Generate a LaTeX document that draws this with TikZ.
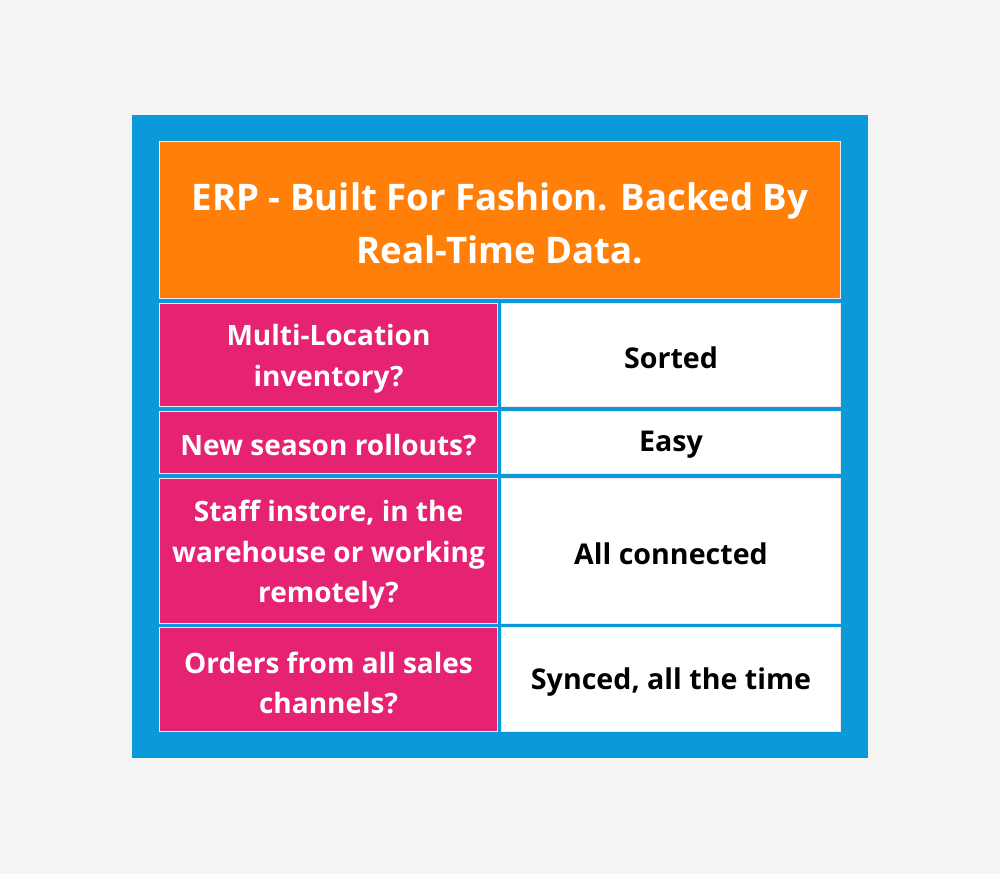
\documentclass[tikz,border=0pt]{standalone}
\usepackage{fontspec}
\setmainfont{Open Sans}
\definecolor{bgc}{HTML}{F4F4F4}
\definecolor{framec}{HTML}{0A9ADA}
\definecolor{orangec}{HTML}{FF7F08}
\definecolor{pinkc}{HTML}{E62272}
\definecolor{edgec}{HTML}{F4E6EC}
\begin{document}
\begin{tikzpicture}[x=1pt,y=-1pt,
  cellbox/.style={draw=edgec,line width=1pt},
  lefttext/.style={text=white,font=\bfseries\fontsize{28}{40.5}\selectfont,align=center},
  righttext/.style={text=black,font=\bfseries\fontsize{28.6}{40.5}\selectfont,align=center},
  headtext/.style={text=white,font=\bfseries\fontsize{36.6}{53}\selectfont,align=center}]
\fill[bgc] (0,0) rectangle (1000,874);
\useasboundingbox (0,0) rectangle (1000,874);
\fill[framec] (131.5,115) rectangle (868,758);
% header
\filldraw[cellbox,fill=orangec] (159.5,142) rectangle (840.5,298);
\node[headtext] (head) at (500,223) {ERP - Built For Fashion. Backed By\\Real-Time Data.};
% rows
\filldraw[cellbox,fill=pinkc] (159.5,303) rectangle (497,406.5);
\filldraw[cellbox,fill=white] (501.5,303) rectangle (840.5,406.5);
\filldraw[cellbox,fill=pinkc] (159.5,411.5) rectangle (497,473);
\filldraw[cellbox,fill=white] (501.5,411.5) rectangle (840.5,473);
\filldraw[cellbox,fill=pinkc] (159.5,478) rectangle (497,623.5);
\filldraw[cellbox,fill=white] (501.5,478) rectangle (840.5,623.5);
\filldraw[cellbox,fill=pinkc] (159.5,627.5) rectangle (497,731.5);
\filldraw[cellbox,fill=white] (501.5,627.5) rectangle (840.5,731.5);
\node[lefttext] (q1) at (328.5,358.5) {Multi-Location\\inventory?};
\node[righttext] (a1) at (671,357.5) {Sorted};
\node[lefttext] (q2) at (328.5,445) {New season rollouts?};
\node[righttext] (a2) at (671,444.5) {Easy};
\node[lefttext] (q3) at (328.5,555) {Staff instore, in the\\warehouse or working\\remotely?};
\node[righttext] (a3) at (671,553.5) {All connected};
\node[lefttext] (q4) at (328.5,683) {Orders from all sales\\channels?};
\node[righttext] (a4) at (671,682.5) {Synced, all the time};
\end{tikzpicture}
\end{document}
